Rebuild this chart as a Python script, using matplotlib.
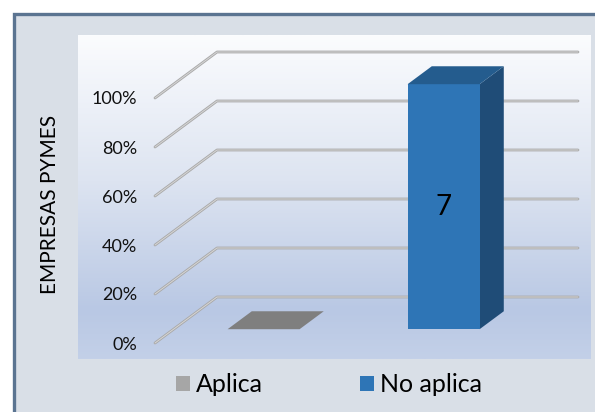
import numpy as np
import matplotlib
matplotlib.use("Agg")
import matplotlib.pyplot as plt
from matplotlib.patches import Polygon, Rectangle, Patch
from matplotlib.colors import LinearSegmentedColormap

plt.rcParams['font.family'] = ['Lato', 'DejaVu Sans']

# ---- data ----
categories = ["Aplica", "No aplica"]
counts = [0, 7]
y_ticks = [0, 20, 40, 60, 80, 100]
y_tick_labels = ["0%", "20%", "40%", "60%", "80%", "100%"]
axis_title = "EMPRESAS PYMES"

total = sum(counts)
pct = [c / total * 100 for c in counts]

front_colors = ["#808080", "#2E75B6"]
top_colors = ["#7F7F7F", "#245C8E"]
side_colors = ["#6E6E6E", "#1F4C77"]
legend_colors = ["#A6A6A6", "#2E75B6"]

W, H = 595, 412
fig = plt.figure(figsize=(W / 100, H / 100), dpi=100)
fig.patch.set_facecolor("white")

# ---- background axes in pixel coords ----
bg = fig.add_axes([0, 0, 1, 1])
bg.set_xlim(0, W)
bg.set_ylim(H, 0)
bg.axis("off")
bg.add_patch(Rectangle((14, 14), 640, 460, facecolor="#D9DFE7",
                       edgecolor="#5B7491", lw=2.4))
grad_cmap = LinearSegmentedColormap.from_list(
    "g", [(0, "#FBFCFE"), (0.45, "#DDE4F1"), (0.85, "#B9C8E4"), (1.0, "#C3D0E8")])
grad = np.linspace(0, 1, 256).reshape(-1, 1)
bg.imshow(grad, cmap=grad_cmap, extent=[78, 591, 359, 35], aspect="auto",
          interpolation="bilinear", zorder=1)

# ---- main axes ----
ax_l, ax_r, ax_t, ax_b = 78, 591, 35, 359
ax = fig.add_axes([ax_l / W, (H - ax_b) / H, (ax_r - ax_l) / W, (ax_b - ax_t) / H])
ax.patch.set_alpha(0)
px_per_x = 180.0
x0_px = 245.0
px_per_y = 2.45
y0_px = 343.0
ax.set_xlim((ax_l - x0_px) / px_per_x, (ax_r - x0_px) / px_per_x)
ax.set_ylim((y0_px - ax_b) / px_per_y, (y0_px - ax_t) / px_per_y)
for s in ax.spines.values():
    s.set_visible(False)
ax.set_xticks([])
ax.set_yticks(y_ticks)
ax.set_yticklabels(y_tick_labels)
ax.tick_params(axis="y", length=0, pad=-(137 - ax_l) * 0.72, labelsize=13,
               labelcolor="#111111")

# depth of the 3D box (in data units)
ddx = 62 / px_per_x
ddy = 46 / px_per_y
grid_x0 = -0.5
grid_x1 = (578 - 62 - x0_px) / px_per_x + ddx

for v in y_ticks:
    xs = [grid_x0, grid_x0 + ddx, grid_x1]
    ys = [v, v + ddy, v + ddy]
    ax.plot(xs, ys, color="#A9A9A9", lw=2.0, solid_capstyle="round", zorder=2)
    ax.plot(xs, ys, color="#D6D6D6", lw=0.7, solid_capstyle="round", zorder=2)

# bars
f0 = 0.30
fb = 0.39
sx, sy = f0 * ddx, f0 * ddy
bdx, bdy = fb * ddx, fb * ddy
half_w = 0.2
for i, v in enumerate(pct):
    xl = i + sx - half_w
    xr = i + sx + half_w
    yb = sy
    yt = sy + v
    ax.add_patch(Polygon([(xr, yb), (xr + bdx, yb + bdy), (xr + bdx, yt + bdy), (xr, yt)],
                         closed=True, facecolor=side_colors[i], edgecolor="none", zorder=3))
    ax.add_patch(Polygon([(xl, yb), (xr, yb), (xr, yt), (xl, yt)],
                         closed=True, facecolor=front_colors[i], edgecolor="none", zorder=3))
    ax.add_patch(Polygon([(xl, yt), (xr, yt), (xr + bdx, yt + bdy), (xl + bdx, yt + bdy)],
                         closed=True, facecolor=top_colors[i], edgecolor="none", zorder=4))
    if counts[i] > 0:
        ax.text(i + sx, sy + v / 2, str(counts[i]), ha="center", va="center",
                fontsize=20, color="black", zorder=5)

# axis title
fig.text(50 / W, 1 - 204 / H, axis_title, rotation=90, ha="center", va="center",
         fontsize=15, color="black")

# legend
handles = [Patch(facecolor=legend_colors[0], edgecolor="none"),
           Patch(facecolor=legend_colors[1], edgecolor="none")]
fig.legend(handles, categories, loc="center", bbox_to_anchor=(329 / W, 1 - 385 / H),
           ncol=2, frameon=False, fontsize=18, handlelength=0.56, handleheight=0.56,
           handletextpad=0.25, columnspacing=3.9, borderpad=0)

fig.savefig("out.png", dpi=100)
